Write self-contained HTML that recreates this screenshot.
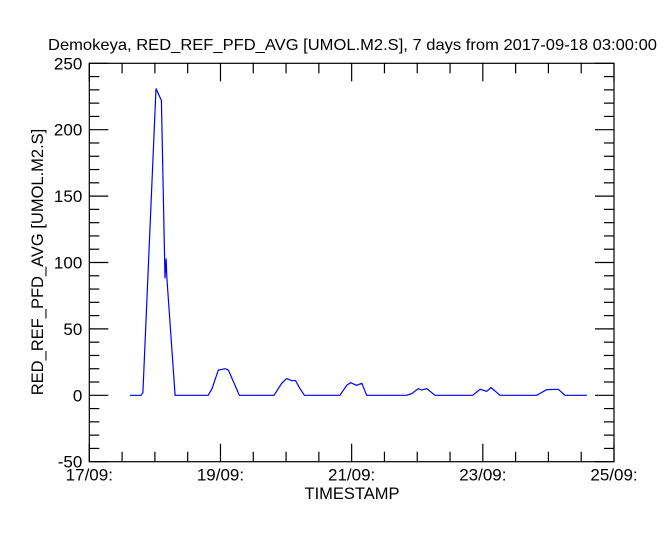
<!DOCTYPE html>
<html><head><meta charset="utf-8"><style>
body{margin:0;background:#fff;}
svg{display:block;font-family:"Liberation Sans",sans-serif;}
</style></head><body>
<svg id="chart" width="666" height="533" viewBox="0 0 666 533" xmlns="http://www.w3.org/2000/svg">
<rect width="666" height="533" fill="#fff"/>
<text x="48" y="50" font-size="16" textLength="609" lengthAdjust="spacingAndGlyphs" fill="#000">Demokeya, RED_REF_PFD_AVG [UMOL.M2.S], 7 days from  2017-09-18 03:00:00</text>
<text transform="translate(43,262) rotate(-90)" font-size="16.5" text-anchor="middle" fill="#000">RED_REF_PFD_AVG [UMOL.M2.S]</text>
<text x="352" y="499" font-size="16.5" text-anchor="middle" fill="#000">TIMESTAMP</text>
<g id="axes"></g>
<polyline id="series" fill="none" stroke="#0000ff" stroke-width="1.2"/>
</svg>
<script>
// hours since 17/09 00:00
const times = [14.9,18.9,19.6,24.4,26.4,27.7,28.1,28.4,31.4,43.5,44.9,47.2,49.7,50.9,52.6,54.9,67.6,70.4,72.2,74.1,75.5,77.1,78.7,91.7,94.2,95.6,97.8,99.7,101.5,116.1,118,120.4,121.6,123.5,126.5,140.3,143,145.4,147,150.3,163.7,167.4,171.6,174.1,182.1];
const values = [0,0,2,231,222,88,103,88,0,0,5,19,20,19,11,0,0,9,12.6,11,11,5,0,0,7.5,9.5,7.5,9,0,0,1.3,5,4,5,0,0,4.5,3,5.8,0,0,4.3,4.5,0,0];
const yTicks = [-50,0,50,100,150,200,250];
const xTickLabels = ["17/09:","19/09:","21/09:","23/09:","25/09:"];
const L=89.3,R=614,T=63.3,B=461.7, yMin=-50,yMax=250, hMax=192;
const xs=h=>L+(h/hMax)*(R-L);
const ys=v=>B-(v-yMin)/(yMax-yMin)*(B-T);
const NS="http://www.w3.org/2000/svg";
const ax=document.getElementById('axes');
function line(x1,y1,x2,y2,name){const l=document.createElementNS(NS,'line');
l.setAttribute('x1',x1);l.setAttribute('y1',y1);l.setAttribute('x2',x2);l.setAttribute('y2',y2);
l.setAttribute('stroke','#000');l.setAttribute('stroke-width','1.2');


ax.appendChild(l);}
function txt(x,y,s,anchor,name){const t=document.createElementNS(NS,'text');
t.setAttribute('x',x);t.setAttribute('y',y);t.setAttribute('font-size','17');t.setAttribute('text-anchor',anchor);t.textContent=s;


ax.appendChild(t);}
const fr=document.createElementNS(NS,'rect');
fr.setAttribute('x',L);fr.setAttribute('y',T);fr.setAttribute('width',R-L);fr.setAttribute('height',B-T);
fr.setAttribute('fill','none');fr.setAttribute('stroke','#000');fr.setAttribute('stroke-width','1.2');


ax.appendChild(fr);
for(let v=yMin;v<=yMax;v+=10){const y=ys(v);const len=(v%50===0)?19:10;
line(L,y,L+len,y,'y-tick');line(R,y,R-len,y,'y-tick-right');}
yTicks.forEach(v=>txt(L-7,ys(v)+6,String(v),'end','y-tick-label'));
for(let h=0;h<=hMax;h+=12){const x=xs(h);const len=(h%48===0)?18:10;
line(x,B,x,B-len,'x-tick');line(x,T,x,T+len,'x-tick-top');}
xTickLabels.forEach((s,i)=>txt(xs(i*48),B+19,s,'middle','x-tick-label'));
document.getElementById('series').setAttribute('points',times.map((h,i)=>xs(h).toFixed(1)+','+ys(values[i]).toFixed(1)).join(' '));
</script>
</body></html>
